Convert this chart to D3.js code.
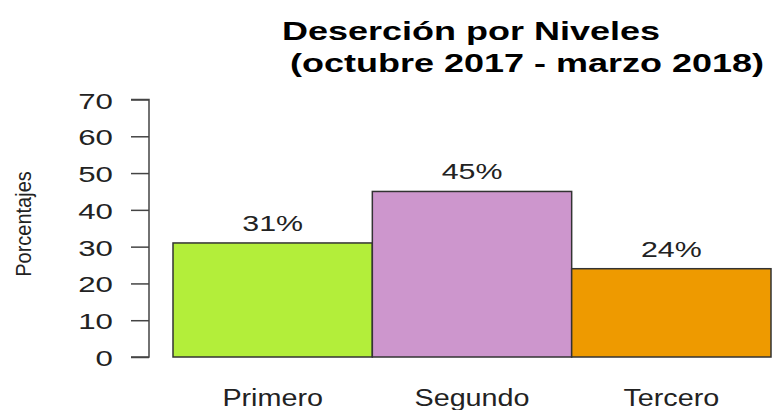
<!DOCTYPE html>
<html>
<head>
<meta charset="utf-8">
<script src="https://cdn.jsdelivr.net/npm/d3@7"></script>
<style>
  body { margin: 0; background: #fff; }
  text { font-family: "Liberation Sans", Arial, sans-serif; fill: #222; }
</style>
</head>
<body>
<svg width="775" height="410"></svg>
<script>
// data
var niveles = ["Primero", "Segundo", "Tercero"];
var porcentajes = [31, 45, 24];
var etiquetas = ["31%", "45%", "24%"];
var colores = ["#B3EE3A", "#CD96CD", "#EE9A00"];
var yTicks = [0, 10, 20, 30, 40, 50, 60, 70];
var titulo = ["Deserción por Niveles", "(octubre 2017 - marzo 2018)"];

var svg = d3.select("svg");

var x = d3.scaleBand().domain(niveles).range([173, 771]).padding(0);
var y = d3.scaleLinear().domain([0, 70]).range([357, 99.5]);

// the reference is stretched sideways, text too
function stretchedText(g, px, py, str, anchor, size, sx, weight){
    return g.append("text")
        .attr("transform", "translate(" + px + "," + py + ") scale(" + sx + ",1)")
        .attr("text-anchor", anchor)
        .style("font-size", size + "px")
        .style("font-weight", weight || "normal")
        .text(str)
}

// bars
svg.selectAll("rect.bar")
    .data(porcentajes)
    .enter().append("rect")
    .attr("class", "bar")
    .attr("x", function(d, i){ return x(niveles[i]) })
    .attr("width", x.bandwidth())
    .attr("y", function(d){ return y(d) })
    .attr("height", function(d){ return y(0) - y(d) })
    .attr("fill", function(d, i){ return colores[i] })
    .attr("stroke", "#333")
    .attr("stroke-width", 1.5);

// value labels above bars
porcentajes.forEach(function(v, i){
    stretchedText(svg, x(niveles[i]) + x.bandwidth()/2, y(v) - 12, etiquetas[i], "middle", 22, 1.38)
})

// category labels
niveles.forEach(function(n){
    stretchedText(svg, x(n) + x.bandwidth()/2, 406, n, "middle", 23, 1.25)
})

// y axis
var yAxis = d3.axisLeft(y).tickValues(yTicks).tickSize(18).tickFormat("");
var gy = svg.append("g").attr("transform", "translate(149,0)").call(yAxis);
gy.select(".domain").attr("d", "M-18," + y(70) + "H0V" + y(0) + "H-18").attr("stroke", "#444").attr("stroke-width", 1.5);
gy.selectAll(".tick line").attr("stroke", "#444").attr("stroke-width", 1.5);

yTicks.forEach(function(t){
    stretchedText(svg, 113, y(t) + 9, String(t), "end", 22, 1.42)
})

// y axis title
svg.append("text")
    .attr("transform", "translate(31,224) rotate(-90) scale(1,1.1)")
    .attr("text-anchor", "middle")
    .style("font-size", "20px")
    .text("Porcentajes");

// title, two lines
stretchedText(svg, 471, 40, titulo[0], "middle", 25, 1.44, "bold").style("fill", "#000");
stretchedText(svg, 527, 72, titulo[1], "middle", 25, 1.44, "bold").style("fill", "#000");
</script>
</body>
</html>
